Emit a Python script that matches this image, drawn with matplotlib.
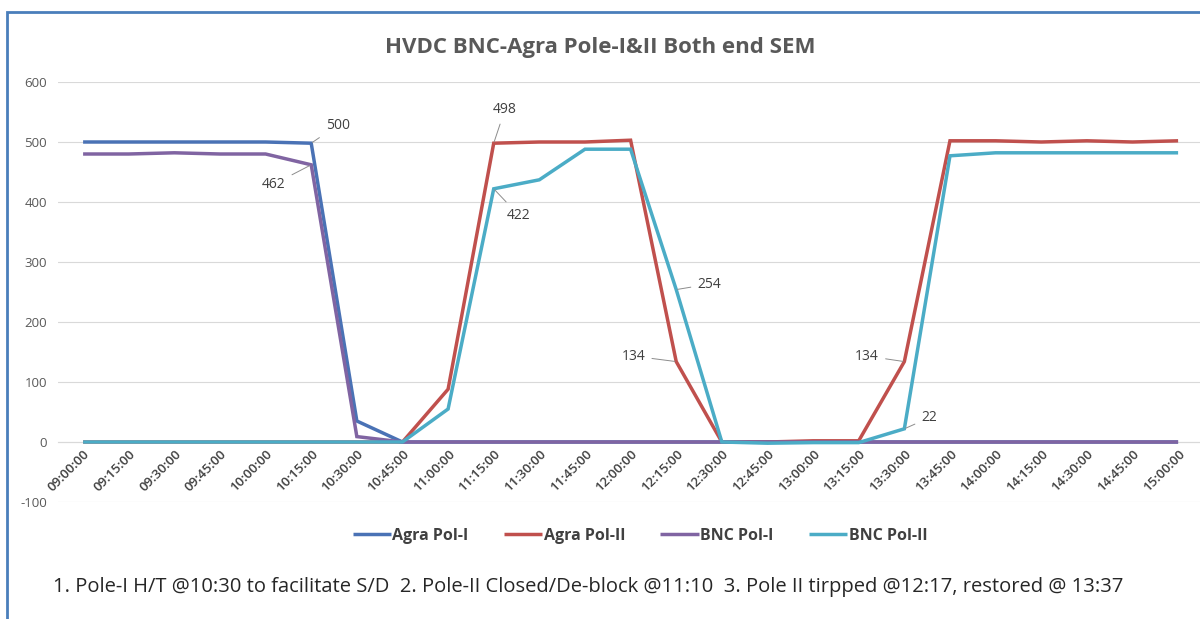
import matplotlib
matplotlib.use("Agg")
import matplotlib.pyplot as plt
from matplotlib.patches import Rectangle

times = ["09:00:00", "09:15:00", "09:30:00", "09:45:00", "10:00:00", "10:15:00",
         "10:30:00", "10:45:00", "11:00:00", "11:15:00", "11:30:00", "11:45:00",
         "12:00:00", "12:15:00", "12:30:00", "12:45:00", "13:00:00", "13:15:00",
         "13:30:00", "13:45:00", "14:00:00", "14:15:00", "14:30:00", "14:45:00",
         "15:00:00"]

agra_pol1 = [500, 500, 500, 500, 500, 498, 35, 0, 0, 0, 0, 0, 0, 0, 0, 0, 0, 0,
             0, 0, 0, 0, 0, 0, 0]
agra_pol2 = [0, 0, 0, 0, 0, 0, 0, 0, 88, 498, 500, 500, 503, 134, 0, 0, 2, 2,
             134, 502, 502, 500, 502, 500, 502]
bnc_pol1 = [480, 480, 482, 480, 480, 462, 9, 0, 0, 0, 0, 0, 0, 0, 0, 0, 0, 0,
            0, 0, 0, 0, 0, 0, 0]
bnc_pol2 = [0, 0, 0, 0, 0, 0, 0, 0, 55, 422, 437, 488, 488, 254, 0, -2, -1, -1,
            22, 477, 482, 482, 482, 482, 482]

series_names = ["Agra Pol-I", "Agra Pol-II", "BNC Pol-I", "BNC Pol-II"]
series_values = [agra_pol1, agra_pol2, bnc_pol1, bnc_pol2]
series_colors = ["#4A72B5", "#C0504D", "#8064A2", "#4BACC6"]

y_ticks = [-100, 0, 100, 200, 300, 400, 500, 600]

title = "HVDC BNC-Agra Pole-I&II Both end SEM"
note = ("1. Pole-I H/T @10:30 to facilitate S/D  2. Pole-II Closed/De-block @11:10  "
        "3. Pole II tirpped @12:17, restored @ 13:37")

# data labels: (series index, point index, label text, offset in points)
data_labels = [
    (0, 5, "500", (19, 13)),
    (2, 5, "462", (-27, -14)),
    (1, 9, "498", (8, 24)),
    (3, 9, "422", (18, -19)),
    (3, 13, "254", (24, 4)),
    (1, 13, "134", (-31, 4)),
    (1, 18, "134", (-27, 4)),
    (3, 18, "22", (18, 8)),
]

plt.rcParams['font.family'] = ['Open Sans', 'DejaVu Sans']

fig = plt.figure(figsize=(12, 6.19), dpi=100)
ax = fig.add_axes([58 / 1200, 1 - 502 / 619, 1 - 58 / 1200, (502 - 82) / 619])

x = list(range(len(times)))
for name, vals, col in zip(series_names, series_values, series_colors):
    ax.plot(x, vals, color=col, lw=2.5, label=name, solid_joinstyle='miter',
            solid_capstyle='butt', zorder=3)

for si, pi, txt, off in data_labels:
    ax.annotate(txt, xy=(pi, series_values[si][pi]), xytext=off,
                textcoords='offset points', ha='center', va='center',
                fontsize=10, color='#404040',
                arrowprops=dict(arrowstyle='-', color='#8C8C8C', lw=0.7,
                                shrinkA=3, shrinkB=1), zorder=5)

ax.set_xlim(-0.55, 24.48)
ax.set_ylim(-100, 600)
ax.set_yticks(y_ticks)
ax.set_yticklabels([str(v) for v in y_ticks])
ax.yaxis.grid(True, color='#D9D9D9', lw=0.8, zorder=0)
ax.set_axisbelow(True)
for s in ['top', 'right', 'left']:
    ax.spines[s].set_visible(False)
ax.spines['bottom'].set_position(('data', 0))
ax.spines['bottom'].set_color('#D9D9D9')
ax.spines['bottom'].set_linewidth(0.8)
ax.set_xticks(x)
ax.set_xticklabels(times, rotation=45, ha='right', rotation_mode='anchor',
                   fontsize=9.5, color='#404040', fontweight='semibold')
ax.tick_params(axis='x', length=0, pad=4)
ax.tick_params(axis='y', length=0, pad=8, labelsize=9.5, labelcolor='#595959')

fig.text(0.5, 1 - 47 / 619, title, ha='center', va='center', fontsize=16,
         fontweight='bold', color='#595959')

leg = fig.legend(loc='center', bbox_to_anchor=(640 / 1200, 1 - 536 / 619), ncol=4,
                 frameon=False, handlelength=2.4, handletextpad=0.1,
                 columnspacing=2.2, prop={'size': 11.5, 'weight': 'bold'})
for t in leg.get_texts():
    t.set_color('#404040')
for h in leg.get_lines():
    h.set_linewidth(2.5)

fig.text(53 / 1200, 1 - 587 / 619, note, ha='left', va='center', fontsize=14.5,
         color='#262626')

fig.add_artist(Rectangle((7 / 1200, -0.05), 1.1, 1 - 12 / 619 + 0.05,
                         transform=fig.transFigure, fill=False,
                         edgecolor='#4A7EBB', lw=2, zorder=10))

fig.savefig("out.png", dpi=100)
